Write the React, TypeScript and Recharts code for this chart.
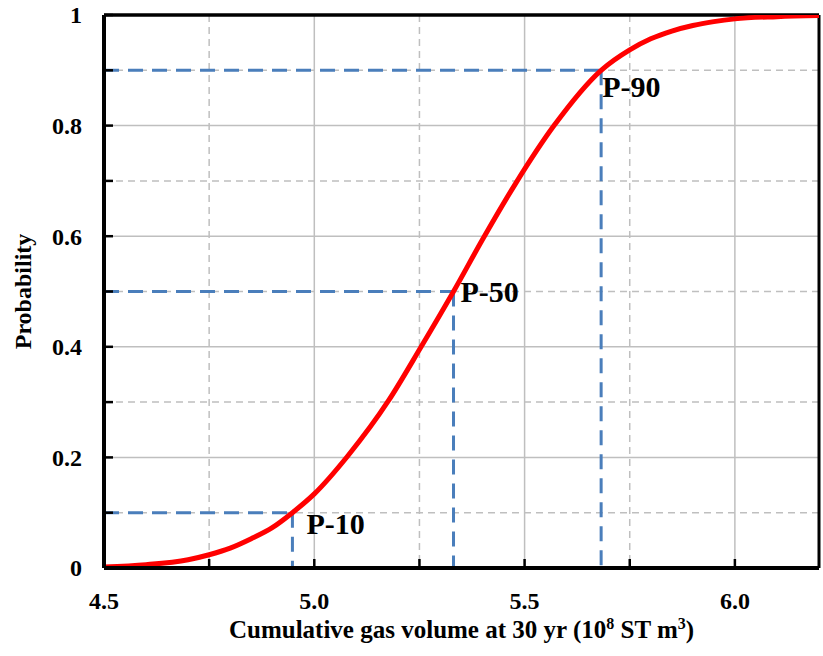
import { LineChart, Line, XAxis, YAxis, CartesianGrid, ReferenceLine, Label, LabelList } from "recharts";

// cumulative distribution of gas volume
const volume = [4.5, 4.6, 4.7, 4.75, 4.8, 4.85, 4.9, 4.948, 5.0, 5.08, 5.176, 5.254, 5.331, 5.4, 5.48, 5.57, 5.682, 5.75, 5.8, 5.85, 5.9, 5.95, 6.0, 6.1, 6.2];
const probability = [0.002, 0.006, 0.015, 0.024, 0.036, 0.053, 0.073, 0.1, 0.134, 0.203, 0.302, 0.4, 0.5, 0.594, 0.697, 0.8, 0.9, 0.937, 0.957, 0.971, 0.981, 0.988, 0.993, 0.997, 0.999];

// P-10 / P-50 / P-90 markers
const pNames = ["P-10", "P-50", "P-90"];
const pLevels = [0.1, 0.5, 0.9];
const pVolumes = [4.948, 5.331, 5.682];

const xTicks = [4.5, 4.75, 5.0, 5.25, 5.5, 5.75, 6.0];
const xLabelled = [4.5, 5.0, 5.5, 6.0];
const yTicks = [0, 0.1, 0.2, 0.3, 0.4, 0.5, 0.6, 0.7, 0.8, 0.9, 1];
const yLabelled = [0, 0.2, 0.4, 0.6, 0.8, 1];

const curve = volume.map((v, i) => ({ v, p: probability[i] }));

const FONT = "'Liberation Serif', 'Times New Roman', serif";
const BLUE = "#4a7ebb";
const GRID = "#bfbfbf";

// label placement next to each marker corner
const labelShift = [
  [14, 21],
  [7, 10],
  [1, 27],
];

const XTick = (props: any) => {
  const { x, y, payload } = props;
  const show = xLabelled.some((t) => Math.abs(t - payload.value) < 1e-6);
  return (
    <g>
      <line x1={x} x2={x} y1={y} y2={y - 9} stroke="#000" strokeWidth={2.5} />
      {show && (
        <text x={x} y={y + 41} textAnchor="middle" fontFamily={FONT} fontWeight="bold" fontSize={24} fill="#000">
          {payload.value.toFixed(1)}
        </text>
      )}
    </g>
  );
};

const YTick = (props: any) => {
  const { x, y, payload } = props;
  const show = yLabelled.some((t) => Math.abs(t - payload.value) < 1e-6);
  return (
    <g>
      <line x1={x} x2={x + 9} y1={y} y2={y} stroke="#000" strokeWidth={2.5} />
      {show && (
        <text x={x - 22} y={y} dy="0.35em" textAnchor="end" fontFamily={FONT} fontWeight="bold" fontSize={24} fill="#000">
          {payload.value}
        </text>
      )}
    </g>
  );
};

const XTitle = (props: any) => {
  const { x, y, width } = props.viewBox;
  return (
    <text x={x + width / 2} y={y + 70} textAnchor="middle" fontFamily={FONT} fontWeight="bold" fontSize={25} fill="#000">
      Cumulative gas volume at 30 yr (10
      <tspan dy={-9} fontSize={16}>8</tspan>
      <tspan dy={9}> ST m</tspan>
      <tspan dy={-9} fontSize={16}>3</tspan>
      <tspan dy={9}>)</tspan>
    </text>
  );
};

const YTitle = (props: any) => {
  const { y, height } = props.viewBox;
  const cx = 23;
  const cy = y + height / 2;
  return (
    <text x={cx} y={cy} dy="0.35em" textAnchor="middle" transform={`rotate(-90 ${cx} ${cy})`} fontFamily={FONT} fontWeight="bold" fontSize={24} fill="#000">
      Probability
    </text>
  );
};

export default function App() {
  return (
    <div style={{ position: "absolute", left: 0, top: 0, background: "#fff" }}>
      <LineChart width={823} height={656} margin={{ top: 15, right: 4, left: 0, bottom: 0 }}>
        <CartesianGrid stroke={GRID} strokeWidth={1.5} horizontalValues={[0.2, 0.4, 0.6, 0.8]} verticalValues={[5.0, 5.5, 6.0]} />
        <CartesianGrid stroke={GRID} strokeWidth={1.5} strokeDasharray="7 5" horizontalValues={[0.1, 0.3, 0.5, 0.7, 0.9]} verticalValues={[4.75, 5.25, 5.75]} />
        <XAxis
          type="number"
          dataKey="v"
          domain={[4.5, 6.2]}
          ticks={xTicks}
          tick={<XTick />}
          tickLine={false}
          tickSize={0}
          tickMargin={0}
          height={88}
          axisLine={{ stroke: "#000", strokeWidth: 4 }}
          allowDataOverflow
        >
          <Label content={<XTitle />} />
        </XAxis>
        <YAxis
          type="number"
          domain={[0, 1]}
          ticks={yTicks}
          tick={<YTick />}
          tickLine={false}
          tickSize={0}
          tickMargin={0}
          width={104}
          axisLine={{ stroke: "#000", strokeWidth: 4 }}
          allowDataOverflow
        >
          <Label content={<YTitle />} />
        </YAxis>
        <ReferenceLine y={1} stroke="#000" strokeWidth={3.5} />
        <ReferenceLine x={6.2} stroke="#000" strokeWidth={3} />
        {pLevels.map((p, i) => (
          <Line
            key={`h${i}`}
            data={[
              { v: 4.5, p },
              { v: pVolumes[i], p },
            ]}
            dataKey="p"
            type="linear"
            stroke={BLUE}
            strokeWidth={3}
            strokeDasharray="15 9"
            dot={false}
            isAnimationActive={false}
          />
        ))}
        {pLevels.map((p, i) => (
          <Line
            key={`v${i}`}
            data={[
              { v: pVolumes[i], p },
              { v: pVolumes[i], p: 0 },
            ]}
            dataKey="p"
            type="linear"
            stroke={BLUE}
            strokeWidth={3}
            strokeDasharray="15 9"
            dot={false}
            isAnimationActive={false}
          >
            <LabelList
              dataKey="p"
              content={(lp: any) =>
                lp.index === 0 ? (
                  <text
                    x={lp.x + labelShift[i][0]}
                    y={lp.y + labelShift[i][1]}
                    fontFamily={FONT}
                    fontWeight="bold"
                    fontSize={30}
                    fill="#000"
                  >
                    {pNames[i]}
                  </text>
                ) : null
              }
            />
          </Line>
        ))}
        <Line data={curve} dataKey="p" type="monotone" stroke="#ff0000" strokeWidth={5} dot={false} isAnimationActive={false} />
      </LineChart>
    </div>
  );
}
